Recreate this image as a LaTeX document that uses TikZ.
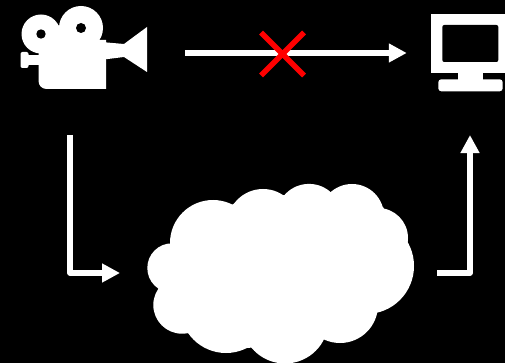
\documentclass[tikz,border=0pt]{standalone}
\usetikzlibrary{positioning,arrows.meta,calc}

\begin{document}
\begin{tikzpicture}[
  x=1pt, y=-1pt,
  icon/.style={inner sep=0pt, outer sep=0pt, minimum width=#1},
  solid white/.style={fill=white, draw=none},
  arr/.style={-{Triangle[length=18pt, width=18pt]}, white, line width=5.5pt, line join=round},
  cross/.style={red, line width=5.5pt}
]
\useasboundingbox (0,0) rectangle (505,363);
\fill[black] (0,0) rectangle (505,363);
% Anchors for the three pictures
\node[icon=127pt, minimum height=84pt] (camera) at (83.5,53) {};
\node[icon=74.3pt, minimum height=77.3pt] (monitor) at (467.9,53) {};
\node[icon=266pt, minimum height=179pt] (cloud) at (281,273) {};
% Camera
\fill[solid white] (41,34) circle (19.5);
\fill[solid white] (81,28) circle (22);
\fill[solid white] (41,40) -- (59,25) -- (81,40) -- cycle;
\fill[solid white] (38.5,40) -- (38.5,81) arc[start angle=180, end angle=90, radius=8] -- (106,89) -- (106,40) -- cycle;
\fill[solid white] (90,41) -- (124,44) -- (147,27) -- (147,72) -- (124,57) -- (100,60) -- cycle;
\fill[solid white] (28,55) rectangle (40,65);
\fill[solid white, rounded corners=2pt] (20.5,52) rectangle (28.5,68);
\fill[black] (41,34) circle (4.7);
\fill[black] (81,28) circle (5);
% Monitor
\fill[solid white] (430.7,14) rectangle (505,73);
\fill[black, rounded corners=2pt] (442.3,25) rectangle (498.3,62);
\fill[solid white] (457.7,73) rectangle (483.3,80);
\fill[solid white, rounded corners=3pt] (438.3,79.3) rectangle (502.7,91.3);
% Cloud
\foreach \cx/\cy/\cr in {213/243/43, 263/225/36, 309/216.5/32.6, 352/216/32, 378/238/30,
                         366/266/48, 340/305/38, 285/320/43.5, 226/307/46, 182/305/28.7, 172/268/24.7}
  \fill[solid white] (\cx,\cy) circle (\cr);
\fill[solid white] (171.7,243) -- (235,203) -- (285,195) -- (331,192) -- (383,207) -- (406,248)
  -- (378,310) -- (325,338) -- (248,348) -- (183,332) -- (158,290) -- cycle;
% Connector ends
\coordinate[right=38pt of camera.east] (direct start);
\coordinate[left=24pt of monitor.west] (direct end);
\coordinate (down start) at ($(camera.south)+(-13.5,40)$);
\coordinate[left=28pt of cloud.west] (down end);
\coordinate[right=23pt of cloud.east] (up start);
\coordinate (up end) at ($(monitor.south)+(2.1,43.4)$);
\draw[arr] (direct start) -- (direct end);
\draw[arr] (down start) |- (down end);
\draw[arr] (up start) -| (up end);
% Blocked
\coordinate (block) at (282.5,54);
\draw[cross] ($(block)+(-21.5,-21.5)$) -- ($(block)+(21.5,21.5)$);
\draw[cross] ($(block)+(-21.5,21.5)$) -- ($(block)+(21.5,-21.5)$);
\end{tikzpicture}
\end{document}
